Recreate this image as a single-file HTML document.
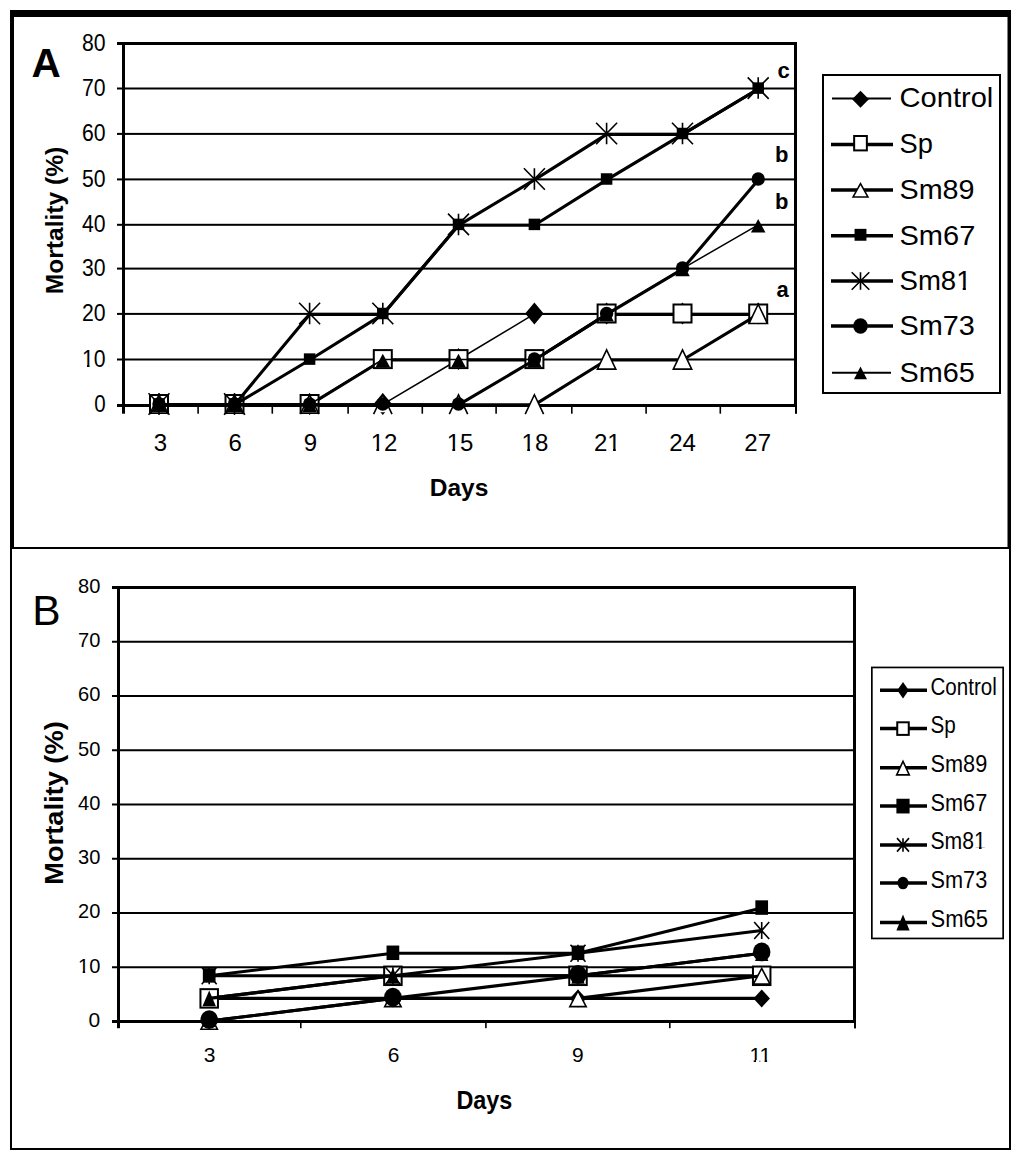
<!DOCTYPE html><html><head><meta charset="utf-8"><style>html,body{margin:0;padding:0;background:#fff;}svg{display:block;}text{font-family:"Liberation Sans",sans-serif;fill:#000;}</style></head><body>
<svg width="1024" height="1164" viewBox="0 0 1024 1164">
<rect x="0" y="0" width="1024" height="1164" fill="#fff"/>
<rect x="10" y="10" width="1001" height="7" fill="#000"/>
<rect x="10" y="10" width="4" height="538" fill="#000"/>
<rect x="1007.5" y="10" width="3.5" height="538" fill="#000"/>
<rect x="10" y="547" width="1001" height="2" fill="#000"/>
<rect x="10" y="547" width="2" height="603" fill="#000"/>
<rect x="1009" y="547" width="2" height="603" fill="#000"/>
<rect x="10" y="1148" width="1001" height="2" fill="#000"/>
<rect x="117" y="358.5" width="677" height="2" fill="#000"/>
<rect x="117" y="312.9" width="677" height="2" fill="#000"/>
<rect x="117" y="267.6" width="677" height="2" fill="#000"/>
<rect x="117" y="223.8" width="677" height="2" fill="#000"/>
<rect x="117" y="178.4" width="677" height="2" fill="#000"/>
<rect x="117" y="132.9" width="677" height="2" fill="#000"/>
<rect x="117" y="87.5" width="677" height="2" fill="#000"/>
<rect x="117" y="42" width="680" height="3" fill="#000"/>
<rect x="122" y="42" width="3" height="365" fill="#000"/>
<rect x="794" y="42" width="3" height="365" fill="#000"/>
<rect x="117" y="404" width="680" height="3" fill="#000"/>
<rect x="197.3" y="404" width="1.6" height="9.7" fill="#000"/>
<rect x="271.5" y="404" width="1.6" height="9.7" fill="#000"/>
<rect x="347.3" y="404" width="1.6" height="9.7" fill="#000"/>
<rect x="421.5" y="404" width="1.6" height="9.7" fill="#000"/>
<rect x="495.3" y="404" width="1.6" height="9.7" fill="#000"/>
<rect x="571" y="404" width="1.6" height="9.7" fill="#000"/>
<rect x="645.3" y="404" width="1.6" height="9.7" fill="#000"/>
<rect x="719.5" y="404" width="1.6" height="9.7" fill="#000"/>
<rect x="122" y="404" width="3" height="9.7" fill="#000"/>
<rect x="795" y="404" width="2" height="9.8" fill="#000"/>
<polyline points="159,404.4 234.5,404.4 309.6,404.4 382.8,404.4 458.5,359.5 534.4,313.9 606.6,313.9 682.5,313.9 758.2,313.9" fill="none" stroke="#000" stroke-width="1.5" stroke-linejoin="round"/>
<polygon points="159,393 168.2,404 159,415 149.8,404" fill="#000"/>
<polygon points="234.5,393 243.7,404 234.5,415 225.3,404" fill="#000"/>
<polygon points="309.6,393 318.8,404 309.6,415 300.4,404" fill="#000"/>
<polygon points="382.8,393 392,404 382.8,415 373.6,404" fill="#000"/>
<polygon points="458.5,348.1 467.7,359.1 458.5,370.1 449.3,359.1" fill="#000"/>
<polygon points="534.4,302.5 543.6,313.5 534.4,324.5 525.2,313.5" fill="#000"/>
<polygon points="606.6,302.5 615.8,313.5 606.6,324.5 597.4,313.5" fill="#000"/>
<polygon points="682.5,302.5 691.7,313.5 682.5,324.5 673.3,313.5" fill="#000"/>
<polygon points="758.2,302.5 767.4,313.5 758.2,324.5 749,313.5" fill="#000"/>
<polyline points="159,404.9 234.5,404.9 309.6,404.9 382.8,360 458.5,360 534.4,360 606.6,314.4 682.5,314.4 758.2,314.4" fill="none" stroke="#000" stroke-width="3.1" stroke-linejoin="round"/>
<rect x="150" y="395" width="18" height="18" fill="#fff" stroke="#000" stroke-width="2"/>
<rect x="225.5" y="395" width="18" height="18" fill="#fff" stroke="#000" stroke-width="2"/>
<rect x="300.6" y="395" width="18" height="18" fill="#fff" stroke="#000" stroke-width="2"/>
<rect x="373.8" y="350.1" width="18" height="18" fill="#fff" stroke="#000" stroke-width="2"/>
<rect x="449.5" y="350.1" width="18" height="18" fill="#fff" stroke="#000" stroke-width="2"/>
<rect x="525.4" y="350.1" width="18" height="18" fill="#fff" stroke="#000" stroke-width="2"/>
<rect x="597.6" y="304.5" width="18" height="18" fill="#fff" stroke="#000" stroke-width="2"/>
<rect x="673.5" y="304.5" width="18" height="18" fill="#fff" stroke="#000" stroke-width="2"/>
<rect x="749.2" y="304.5" width="18" height="18" fill="#fff" stroke="#000" stroke-width="2"/>
<polyline points="159,404.9 234.5,404.9 309.6,404.9 382.8,404.9 458.5,404.9 534.4,404.9 606.6,360 682.5,360 758.2,314.4" fill="none" stroke="#000" stroke-width="3.1" stroke-linejoin="round"/>
<polygon points="159,394.75 167.1,412.25 150.9,412.25" fill="#fff"/>
<polyline points="149.8,414.05 159,394.75 168.2,414.05" fill="none" stroke="#000" stroke-width="1.6" stroke-linejoin="miter"/>
<polygon points="234.5,394.75 242.6,412.25 226.4,412.25" fill="#fff"/>
<polyline points="225.3,414.05 234.5,394.75 243.7,414.05" fill="none" stroke="#000" stroke-width="1.6" stroke-linejoin="miter"/>
<polygon points="309.6,394.75 317.7,412.25 301.5,412.25" fill="#fff"/>
<polyline points="300.4,414.05 309.6,394.75 318.8,414.05" fill="none" stroke="#000" stroke-width="1.6" stroke-linejoin="miter"/>
<polygon points="382.8,394.75 390.9,412.25 374.7,412.25" fill="#fff"/>
<polyline points="373.6,414.05 382.8,394.75 392,414.05" fill="none" stroke="#000" stroke-width="1.6" stroke-linejoin="miter"/>
<polygon points="458.5,394.75 466.6,412.25 450.4,412.25" fill="#fff"/>
<polyline points="449.3,414.05 458.5,394.75 467.7,414.05" fill="none" stroke="#000" stroke-width="1.6" stroke-linejoin="miter"/>
<polygon points="534.4,394.75 542.5,412.25 526.3,412.25" fill="#fff"/>
<polyline points="525.2,414.05 534.4,394.75 543.6,414.05" fill="none" stroke="#000" stroke-width="1.6" stroke-linejoin="miter"/>
<polygon points="606.6,349.85 615.8,369.15 597.4,369.15" fill="#fff" stroke="#000" stroke-width="1.6" stroke-linejoin="miter"/>
<polygon points="682.5,349.85 691.7,369.15 673.3,369.15" fill="#fff" stroke="#000" stroke-width="1.6" stroke-linejoin="miter"/>
<polygon points="758.2,304.25 767.4,323.55 749,323.55" fill="#fff" stroke="#000" stroke-width="1.6" stroke-linejoin="miter"/>
<polyline points="159,404.9 234.5,404.9 309.6,360 382.8,314.4 458.5,225.3 534.4,225.3 606.6,179.9 682.5,134.4 758.2,89" fill="none" stroke="#000" stroke-width="3.1" stroke-linejoin="round"/>
<rect x="153.25" y="398.25" width="11.5" height="11.5" fill="#000"/>
<rect x="228.75" y="398.25" width="11.5" height="11.5" fill="#000"/>
<rect x="303.85" y="353.35" width="11.5" height="11.5" fill="#000"/>
<rect x="377.05" y="307.75" width="11.5" height="11.5" fill="#000"/>
<rect x="452.75" y="218.65" width="11.5" height="11.5" fill="#000"/>
<rect x="528.65" y="218.65" width="11.5" height="11.5" fill="#000"/>
<rect x="600.85" y="173.25" width="11.5" height="11.5" fill="#000"/>
<rect x="676.75" y="127.75" width="11.5" height="11.5" fill="#000"/>
<rect x="752.45" y="82.35" width="11.5" height="11.5" fill="#000"/>
<polyline points="159,404.9 234.5,404.9 309.6,314.4 382.8,314.4 458.5,225.3 534.4,179.9 606.6,134.4 682.5,134.4 758.2,89" fill="none" stroke="#000" stroke-width="3.1" stroke-linejoin="round"/>
<path d="M159 393.25V414.75M148.5 393.25L169.5 414.75M169.5 393.25L148.5 414.75" stroke="#000" stroke-width="1.6" fill="none"/>
<path d="M234.5 393.25V414.75M224 393.25L245 414.75M245 393.25L224 414.75" stroke="#000" stroke-width="1.6" fill="none"/>
<path d="M309.6 302.75V324.25M299.1 302.75L320.1 324.25M320.1 302.75L299.1 324.25" stroke="#000" stroke-width="1.6" fill="none"/>
<path d="M382.8 302.75V324.25M372.3 302.75L393.3 324.25M393.3 302.75L372.3 324.25" stroke="#000" stroke-width="1.6" fill="none"/>
<path d="M458.5 213.65V235.15M448 213.65L469 235.15M469 213.65L448 235.15" stroke="#000" stroke-width="1.6" fill="none"/>
<path d="M534.4 168.25V189.75M523.9 168.25L544.9 189.75M544.9 168.25L523.9 189.75" stroke="#000" stroke-width="1.6" fill="none"/>
<path d="M606.6 122.75V144.25M596.1 122.75L617.1 144.25M617.1 122.75L596.1 144.25" stroke="#000" stroke-width="1.6" fill="none"/>
<path d="M682.5 122.75V144.25M672 122.75L693 144.25M693 122.75L672 144.25" stroke="#000" stroke-width="1.6" fill="none"/>
<path d="M758.2 77.35V98.85M747.7 77.35L768.7 98.85M768.7 77.35L747.7 98.85" stroke="#000" stroke-width="1.6" fill="none"/>
<polyline points="159,404.9 234.5,404.9 309.6,404.9 382.8,404.9 458.5,404.9 534.4,360 606.6,314.4 682.5,269.1 758.2,179.9" fill="none" stroke="#000" stroke-width="3.1" stroke-linejoin="round"/>
<ellipse cx="159" cy="404" rx="6.7" ry="6.85" fill="#000"/>
<ellipse cx="234.5" cy="404" rx="6.7" ry="6.85" fill="#000"/>
<ellipse cx="309.6" cy="404" rx="6.7" ry="6.85" fill="#000"/>
<ellipse cx="382.8" cy="404" rx="6.7" ry="6.85" fill="#000"/>
<ellipse cx="458.5" cy="404" rx="6.7" ry="6.85" fill="#000"/>
<ellipse cx="534.4" cy="359.1" rx="6.7" ry="6.85" fill="#000"/>
<ellipse cx="606.6" cy="313.5" rx="6.7" ry="6.85" fill="#000"/>
<ellipse cx="682.5" cy="268.2" rx="6.7" ry="6.85" fill="#000"/>
<ellipse cx="758.2" cy="179" rx="6.7" ry="6.85" fill="#000"/>
<polyline points="159,404.4 234.5,404.4 309.6,404.4 382.8,359.5 458.5,359.5 534.4,359.5 606.6,313.9 682.5,268.6 758.2,224.8" fill="none" stroke="#000" stroke-width="1.5" stroke-linejoin="round"/>
<polygon points="159,398.55 166.25,412.05 151.75,412.05" fill="#000"/>
<polygon points="234.5,398.55 241.75,412.05 227.25,412.05" fill="#000"/>
<polygon points="309.6,398.55 316.85,412.05 302.35,412.05" fill="#000"/>
<polygon points="382.8,353.65 390.05,367.15 375.55,367.15" fill="#000"/>
<polygon points="458.5,353.65 465.75,367.15 451.25,367.15" fill="#000"/>
<polygon points="534.4,353.65 541.65,367.15 527.15,367.15" fill="#000"/>
<polygon points="606.6,308.05 613.85,321.55 599.35,321.55" fill="#000"/>
<polygon points="682.5,262.75 689.75,276.25 675.25,276.25" fill="#000"/>
<polygon points="758.2,218.95 765.45,232.45 750.95,232.45" fill="#000"/>
<text x="105.6" y="411.8" font-size="23.5" text-anchor="end" textLength="11.4" lengthAdjust="spacingAndGlyphs">0</text>
<text x="105.6" y="366.8" font-size="23.5" text-anchor="end" textLength="23.6" lengthAdjust="spacingAndGlyphs">10</text>
<text x="105.6" y="321.2" font-size="23.5" text-anchor="end" textLength="23.6" lengthAdjust="spacingAndGlyphs">20</text>
<text x="105.6" y="275.9" font-size="23.5" text-anchor="end" textLength="23.6" lengthAdjust="spacingAndGlyphs">30</text>
<text x="105.6" y="232.1" font-size="23.5" text-anchor="end" textLength="23.6" lengthAdjust="spacingAndGlyphs">40</text>
<text x="105.6" y="186.7" font-size="23.5" text-anchor="end" textLength="23.6" lengthAdjust="spacingAndGlyphs">50</text>
<text x="105.6" y="141.2" font-size="23.5" text-anchor="end" textLength="23.6" lengthAdjust="spacingAndGlyphs">60</text>
<text x="105.6" y="95.8" font-size="23.5" text-anchor="end" textLength="23.6" lengthAdjust="spacingAndGlyphs">70</text>
<text x="105.6" y="50.8" font-size="23.5" text-anchor="end" textLength="23.6" lengthAdjust="spacingAndGlyphs">80</text>
<text x="160.5" y="451" font-size="24" text-anchor="middle">3</text>
<text x="235.3" y="451" font-size="24" text-anchor="middle">6</text>
<text x="310.4" y="451" font-size="24" text-anchor="middle">9</text>
<text x="384" y="451" font-size="24" text-anchor="middle">12</text>
<text x="460" y="451" font-size="24" text-anchor="middle">15</text>
<text x="534.9" y="451" font-size="24" text-anchor="middle">18</text>
<text x="607.3" y="451" font-size="24" text-anchor="middle">21</text>
<text x="682.5" y="451" font-size="24" text-anchor="middle">24</text>
<text x="757.7" y="451" font-size="24" text-anchor="middle">27</text>
<text x="459" y="496.3" font-size="24.5" text-anchor="middle" font-weight="bold">Days</text>
<text x="0" y="0" font-size="23" font-weight="bold" text-anchor="middle" textLength="147.5" lengthAdjust="spacingAndGlyphs" transform="translate(62.5,220.5) rotate(-90)">Mortality (%)</text>
<text x="31.5" y="77.2" font-size="40.5" text-anchor="start" font-weight="bold">A</text>
<text x="777.5" y="77.5" font-size="22" text-anchor="start" font-weight="bold">c</text>
<text x="775" y="161.5" font-size="22" text-anchor="start" font-weight="bold">b</text>
<text x="775" y="208.5" font-size="22" text-anchor="start" font-weight="bold">b</text>
<text x="776.5" y="296.5" font-size="22" text-anchor="start" font-weight="bold">a</text>
<rect x="822" y="74" width="179" height="320" fill="#000"/>
<rect x="824" y="76" width="175" height="316" fill="#fff"/>
<line x1="832" y1="98.5" x2="891" y2="98.5" stroke="#000" stroke-width="2"/>
<polygon points="860.5,90.8 868.9,99.3 860.5,107.8 852.1,99.3" fill="#000"/>
<text x="899.5" y="107.2" font-size="28" text-anchor="start" textLength="93.8" lengthAdjust="spacingAndGlyphs">Control</text>
<line x1="831" y1="144.6" x2="893" y2="144.6" stroke="#000" stroke-width="3.5"/>
<rect x="854.15" y="136" width="12.7" height="14.4" fill="#fff" stroke="#000" stroke-width="2"/>
<text x="899.5" y="153.3" font-size="28" text-anchor="start" textLength="33.3" lengthAdjust="spacingAndGlyphs">Sp</text>
<line x1="831" y1="189.9" x2="893" y2="189.9" stroke="#000" stroke-width="3.5"/>
<polygon points="860.5,183.65 867.9,196.95 853.1,196.95" fill="#fff" stroke="#000" stroke-width="1.6" stroke-linejoin="miter"/>
<text x="899.5" y="198.6" font-size="28" text-anchor="start" textLength="75" lengthAdjust="spacingAndGlyphs">Sm89</text>
<line x1="831" y1="235.8" x2="893" y2="235.8" stroke="#000" stroke-width="3.5"/>
<rect x="854.55" y="228.85" width="11.9" height="11.9" fill="#000"/>
<text x="899.5" y="244.5" font-size="28" text-anchor="start" textLength="75.8" lengthAdjust="spacingAndGlyphs">Sm67</text>
<line x1="831" y1="281" x2="893" y2="281" stroke="#000" stroke-width="3.5"/>
<path d="M860.5 272.2V289.8M851.7 272.2L869.3 289.8M869.3 272.2L851.7 289.8" stroke="#000" stroke-width="1.6" fill="none"/>
<text x="899.5" y="289.7" font-size="28" text-anchor="start" textLength="72" lengthAdjust="spacingAndGlyphs">Sm81</text>
<line x1="831" y1="326" x2="893" y2="326" stroke="#000" stroke-width="3.5"/>
<ellipse cx="860.5" cy="326" rx="7.3" ry="7.7" fill="#000"/>
<text x="899.5" y="334.7" font-size="28" text-anchor="start" textLength="75.3" lengthAdjust="spacingAndGlyphs">Sm73</text>
<line x1="832" y1="372.8" x2="891" y2="372.8" stroke="#000" stroke-width="2"/>
<polygon points="860.5,366.45 867,379.15 854,379.15" fill="#000"/>
<text x="899.5" y="381.5" font-size="28" text-anchor="start" textLength="75.3" lengthAdjust="spacingAndGlyphs">Sm65</text>
<rect x="112" y="966.25" width="741" height="2" fill="#000"/>
<rect x="112" y="912" width="741" height="2" fill="#000"/>
<rect x="112" y="857.75" width="741" height="2" fill="#000"/>
<rect x="112" y="803.5" width="741" height="2" fill="#000"/>
<rect x="112" y="749.25" width="741" height="2" fill="#000"/>
<rect x="112" y="695" width="741" height="2" fill="#000"/>
<rect x="112" y="640.75" width="741" height="2" fill="#000"/>
<rect x="112" y="586" width="744" height="3" fill="#000"/>
<rect x="117" y="586" width="3" height="437" fill="#000"/>
<rect x="853" y="586" width="3" height="437" fill="#000"/>
<rect x="112" y="1020" width="744" height="3" fill="#000"/>
<rect x="300" y="1020" width="1.6" height="8.2" fill="#000"/>
<rect x="485.1" y="1020" width="1.6" height="8.2" fill="#000"/>
<rect x="669" y="1020" width="1.6" height="8.2" fill="#000"/>
<rect x="117" y="1020" width="3" height="8.2" fill="#000"/>
<rect x="854" y="1020" width="2" height="8.4" fill="#000"/>
<polyline points="209.2,998.4 392.9,998.4 578,998.4 761.7,998.4" fill="none" stroke="#000" stroke-width="3.1" stroke-linejoin="round"/>
<polygon points="209.2,989.4 217.45,998.4 209.2,1007.4 200.95,998.4" fill="#000"/>
<polygon points="392.9,989.4 401.15,998.4 392.9,1007.4 384.65,998.4" fill="#000"/>
<polygon points="578,989.4 586.25,998.4 578,1007.4 569.75,998.4" fill="#000"/>
<polygon points="761.7,989.4 769.95,998.4 761.7,1007.4 753.45,998.4" fill="#000"/>
<polyline points="209.2,998.4 392.9,975.79 578,975.79 761.7,975.79" fill="none" stroke="#000" stroke-width="3.1" stroke-linejoin="round"/>
<rect x="200.45" y="989.15" width="17.5" height="18.5" fill="#fff" stroke="#000" stroke-width="2"/>
<rect x="384.15" y="966.54" width="17.5" height="18.5" fill="#fff" stroke="#000" stroke-width="2"/>
<rect x="569.25" y="966.54" width="17.5" height="18.5" fill="#fff" stroke="#000" stroke-width="2"/>
<rect x="752.95" y="966.54" width="17.5" height="18.5" fill="#fff" stroke="#000" stroke-width="2"/>
<polyline points="209.2,1021 392.9,998.4 578,998.4 761.7,975.79" fill="none" stroke="#000" stroke-width="3.1" stroke-linejoin="round"/>
<polygon points="209.2,1013.6 217.4,1029.2 201,1029.2" fill="#fff" stroke="#000" stroke-width="1.6" stroke-linejoin="miter"/>
<polygon points="392.9,991 401.1,1006.6 384.7,1006.6" fill="#fff" stroke="#000" stroke-width="1.6" stroke-linejoin="miter"/>
<polygon points="578,991 586.2,1006.6 569.8,1006.6" fill="#fff" stroke="#000" stroke-width="1.6" stroke-linejoin="miter"/>
<polygon points="761.7,968.39 769.9,983.99 753.5,983.99" fill="#fff" stroke="#000" stroke-width="1.6" stroke-linejoin="miter"/>
<polyline points="209.2,975.79 392.9,953.19 578,953.19 761.7,907.98" fill="none" stroke="#000" stroke-width="3.1" stroke-linejoin="round"/>
<rect x="202.85" y="968.14" width="12.7" height="14.5" fill="#000"/>
<rect x="386.55" y="945.54" width="12.7" height="14.5" fill="#000"/>
<rect x="571.65" y="945.54" width="12.7" height="14.5" fill="#000"/>
<rect x="755.35" y="900.33" width="12.7" height="14.5" fill="#000"/>
<polyline points="209.2,975.79 392.9,975.79 578,953.19 761.7,930.58" fill="none" stroke="#000" stroke-width="3.1" stroke-linejoin="round"/>
<path d="M209.2 967.29V984.29M201.7 967.29L216.7 984.29M216.7 967.29L201.7 984.29" stroke="#000" stroke-width="1.6" fill="none"/>
<path d="M392.9 967.29V984.29M385.4 967.29L400.4 984.29M400.4 967.29L385.4 984.29" stroke="#000" stroke-width="1.6" fill="none"/>
<path d="M578 944.69V961.69M570.5 944.69L585.5 961.69M585.5 944.69L570.5 961.69" stroke="#000" stroke-width="1.6" fill="none"/>
<path d="M761.7 922.08V939.08M754.2 922.08L769.2 939.08M769.2 922.08L754.2 939.08" stroke="#000" stroke-width="1.6" fill="none"/>
<polyline points="209.2,1021 392.9,998.4 578,975.79 761.7,953.19" fill="none" stroke="#000" stroke-width="3.1" stroke-linejoin="round"/>
<ellipse cx="209.2" cy="1019.7" rx="8.75" ry="9.4" fill="#000"/>
<ellipse cx="392.9" cy="997.1" rx="8.75" ry="9.4" fill="#000"/>
<ellipse cx="578" cy="974.49" rx="8.75" ry="9.4" fill="#000"/>
<ellipse cx="761.7" cy="951.89" rx="8.75" ry="9.4" fill="#000"/>
<polyline points="209.2,998.4 392.9,975.79 578,975.79 761.7,953.19" fill="none" stroke="#000" stroke-width="3.1" stroke-linejoin="round"/>
<polygon points="209.2,990.5 215.9,1006.3 202.5,1006.3" fill="#000"/>
<polygon points="392.9,967.89 399.6,983.69 386.2,983.69" fill="#000"/>
<polygon points="578,967.89 584.7,983.69 571.3,983.69" fill="#000"/>
<polygon points="761.7,945.29 768.4,961.09 755,961.09" fill="#000"/>
<text x="100.3" y="1026.8" font-size="21" text-anchor="end">0</text>
<text x="100.3" y="972.55" font-size="21" text-anchor="end" textLength="22.3" lengthAdjust="spacingAndGlyphs">10</text>
<text x="100.3" y="918.3" font-size="21" text-anchor="end" textLength="22.3" lengthAdjust="spacingAndGlyphs">20</text>
<text x="100.3" y="864.05" font-size="21" text-anchor="end" textLength="22.3" lengthAdjust="spacingAndGlyphs">30</text>
<text x="100.3" y="809.8" font-size="21" text-anchor="end" textLength="22.3" lengthAdjust="spacingAndGlyphs">40</text>
<text x="100.3" y="755.55" font-size="21" text-anchor="end" textLength="22.3" lengthAdjust="spacingAndGlyphs">50</text>
<text x="100.3" y="701.3" font-size="21" text-anchor="end" textLength="22.3" lengthAdjust="spacingAndGlyphs">60</text>
<text x="100.3" y="647.05" font-size="21" text-anchor="end" textLength="22.3" lengthAdjust="spacingAndGlyphs">70</text>
<text x="100.3" y="592.8" font-size="21" text-anchor="end" textLength="22.3" lengthAdjust="spacingAndGlyphs">80</text>
<text x="209.5" y="1062" font-size="21" text-anchor="middle">3</text>
<text x="393.7" y="1062" font-size="21" text-anchor="middle">6</text>
<text x="577.8" y="1062" font-size="21" text-anchor="middle">9</text>
<text x="760.4" y="1062" font-size="21" text-anchor="middle">11</text>
<text x="484.4" y="1109" font-size="25" text-anchor="middle" font-weight="bold" textLength="56" lengthAdjust="spacingAndGlyphs">Days</text>
<text x="0" y="0" font-size="25.5" font-weight="bold" text-anchor="middle" textLength="163.5" lengthAdjust="spacingAndGlyphs" transform="translate(63.2,803) rotate(-90)">Mortality (%)</text>
<text x="32.2" y="624.6" font-size="42.5" text-anchor="start">B</text>
<rect x="871" y="666.6" width="133" height="272.7" fill="#000"/>
<rect x="872.7" y="668.3" width="129.6" height="269.3" fill="#fff"/>
<line x1="880" y1="690.3" x2="927" y2="690.3" stroke="#000" stroke-width="3.5"/>
<polygon points="903,682.05 908.75,690.3 903,698.55 897.25,690.3" fill="#000"/>
<text x="930.5" y="694.8" font-size="23.5" text-anchor="start" textLength="66.3" lengthAdjust="spacingAndGlyphs">Control</text>
<line x1="880" y1="728.6" x2="927" y2="728.6" stroke="#000" stroke-width="3.5"/>
<rect x="897.25" y="722.3" width="11.5" height="12.6" fill="#fff" stroke="#000" stroke-width="2"/>
<text x="930.5" y="733.1" font-size="23.5" text-anchor="start" textLength="25.3" lengthAdjust="spacingAndGlyphs">Sp</text>
<line x1="880" y1="767.7" x2="927" y2="767.7" stroke="#000" stroke-width="3.5"/>
<polygon points="903,761.3 909.3,774.9 896.7,774.9" fill="#fff" stroke="#000" stroke-width="1.6" stroke-linejoin="miter"/>
<text x="930.5" y="772.2" font-size="23.5" text-anchor="start" textLength="56.7" lengthAdjust="spacingAndGlyphs">Sm89</text>
<line x1="880" y1="806.1" x2="927" y2="806.1" stroke="#000" stroke-width="3.5"/>
<rect x="896.4" y="798.75" width="13.2" height="14.7" fill="#000"/>
<text x="930.5" y="810.6" font-size="23.5" text-anchor="start" textLength="56.7" lengthAdjust="spacingAndGlyphs">Sm67</text>
<line x1="880" y1="844.9" x2="927" y2="844.9" stroke="#000" stroke-width="3.5"/>
<path d="M903 838.15V851.65M897 838.15L909 851.65M909 838.15L897 851.65" stroke="#000" stroke-width="1.6" fill="none"/>
<text x="930.5" y="849.4" font-size="23.5" text-anchor="start" textLength="55.3" lengthAdjust="spacingAndGlyphs">Sm81</text>
<line x1="880" y1="883" x2="927" y2="883" stroke="#000" stroke-width="3.5"/>
<ellipse cx="903" cy="883" rx="5.5" ry="6.35" fill="#000"/>
<text x="930.5" y="887.5" font-size="23.5" text-anchor="start" textLength="56.7" lengthAdjust="spacingAndGlyphs">Sm73</text>
<line x1="880" y1="922.6" x2="927" y2="922.6" stroke="#000" stroke-width="3.5"/>
<polygon points="903,914.6 909.6,930.6 896.4,930.6" fill="#000"/>
<text x="930.5" y="927.1" font-size="23.5" text-anchor="start" textLength="57.5" lengthAdjust="spacingAndGlyphs">Sm65</text>
<rect x="83.04" y="364.69" width="3.95" height="2.96" fill="#fff"/>
<rect x="89.56" y="364.69" width="4.19" height="2.96" fill="#fff"/>
<rect x="371.82" y="448.86" width="4.52" height="2.99" fill="#fff"/>
<rect x="379.16" y="448.86" width="4.74" height="2.99" fill="#fff"/>
<rect x="447.82" y="448.86" width="4.52" height="2.99" fill="#fff"/>
<rect x="455.16" y="448.86" width="4.74" height="2.99" fill="#fff"/>
<rect x="522.72" y="448.86" width="4.52" height="2.99" fill="#fff"/>
<rect x="530.06" y="448.86" width="4.74" height="2.99" fill="#fff"/>
<rect x="608.47" y="448.86" width="4.52" height="2.99" fill="#fff"/>
<rect x="615.81" y="448.86" width="4.74" height="2.99" fill="#fff"/>
<rect x="957.5" y="287.26" width="5.24" height="3.29" fill="#fff"/>
<rect x="965.88" y="287.26" width="5.44" height="3.29" fill="#fff"/>
<rect x="78.98" y="970.63" width="3.72" height="2.77" fill="#fff"/>
<rect x="85.17" y="970.63" width="3.96" height="2.77" fill="#fff"/>
<rect x="750.38" y="1060.08" width="3.34" height="2.77" fill="#fff"/>
<rect x="756.03" y="1060.08" width="3.59" height="2.77" fill="#fff"/>
<rect x="760.63" y="1060.08" width="3.91" height="2.77" fill="#fff"/>
<rect x="767.1" y="1060.08" width="4.15" height="2.77" fill="#fff"/>
<rect x="975.05" y="847.29" width="3.94" height="2.96" fill="#fff"/>
<rect x="981.57" y="847.29" width="4.18" height="2.96" fill="#fff"/>
</svg></body></html>
